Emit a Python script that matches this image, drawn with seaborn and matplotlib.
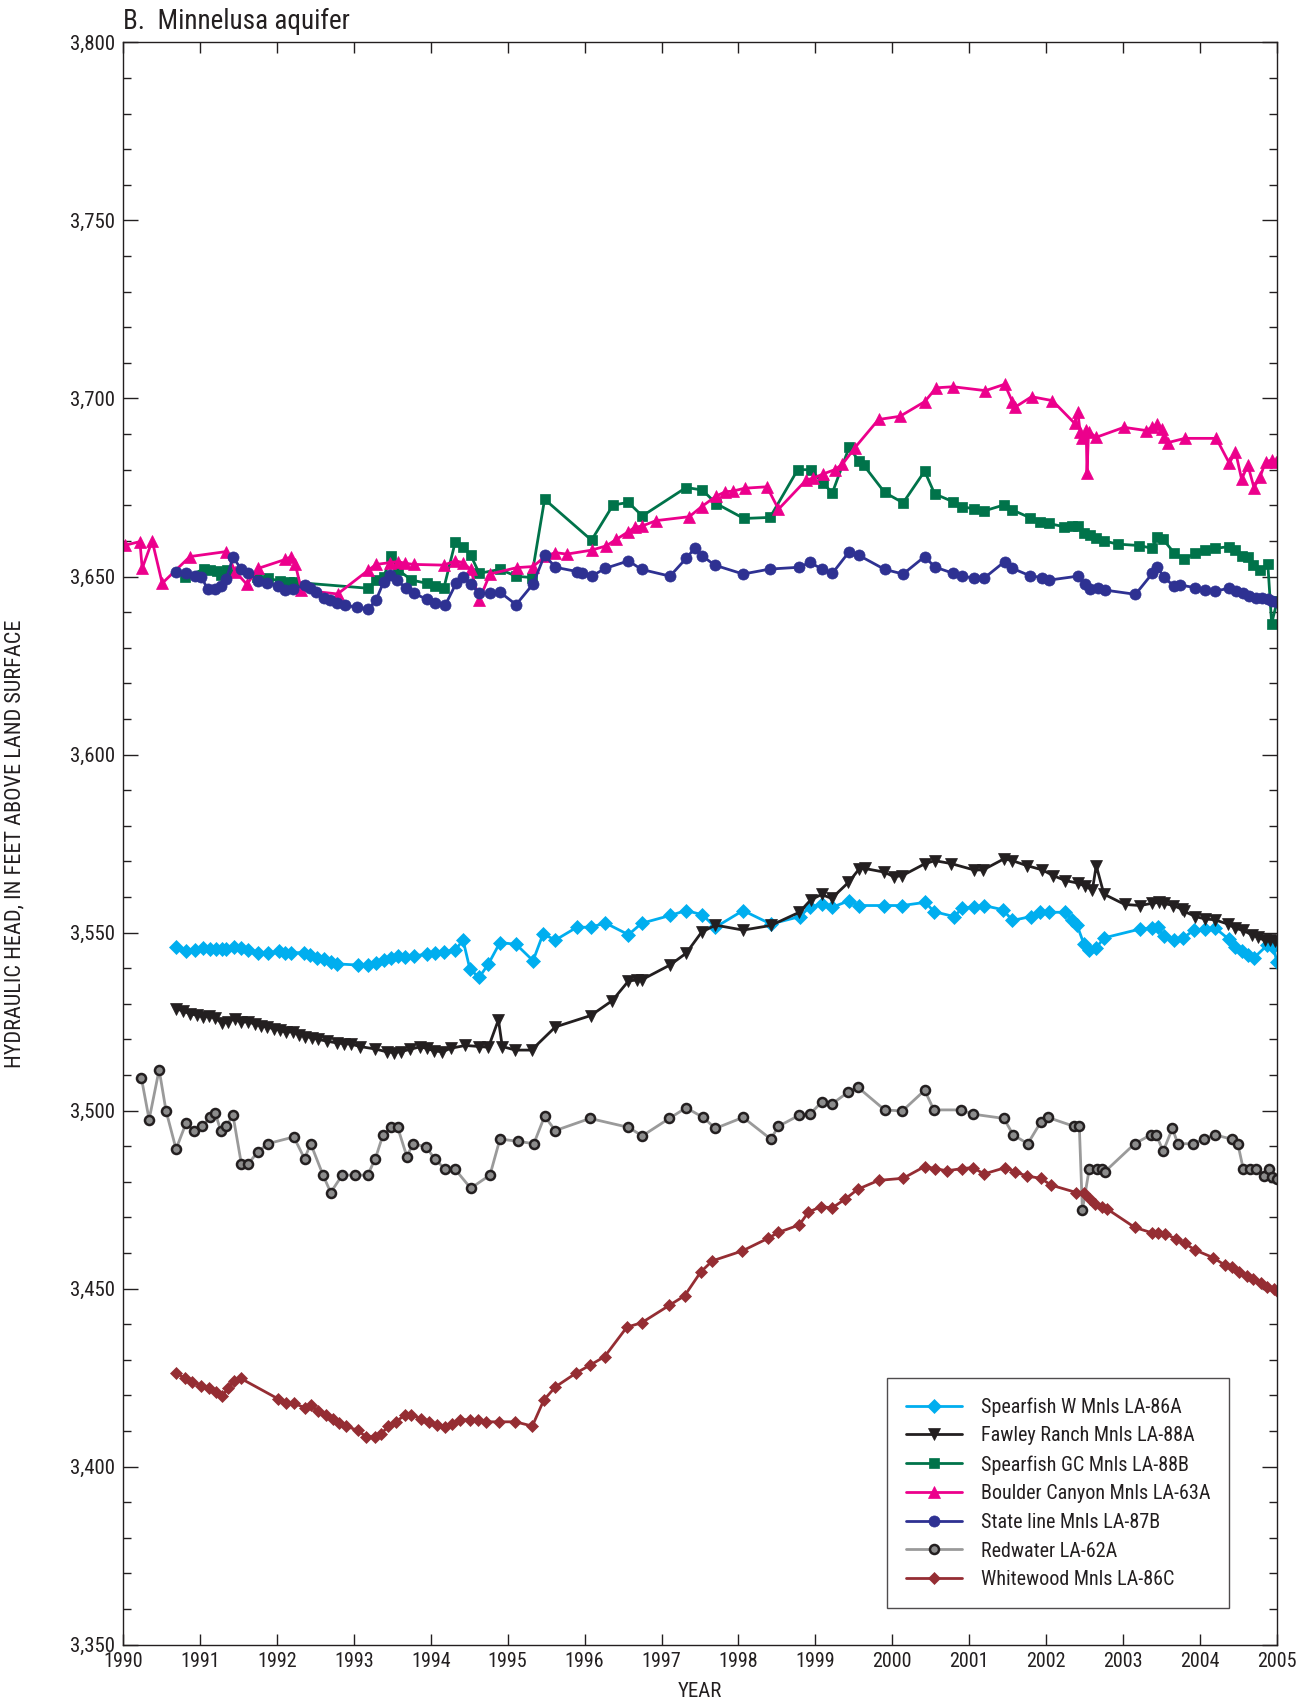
import numpy as np
import pandas as pd
import matplotlib
matplotlib.use("Agg")
import matplotlib.pyplot as plt
import matplotlib.ticker as mticker
import seaborn as sns

# ---------------- data (decimal year, hydraulic head in feet) ----------------
spearfish_w_year = [1990.69, 1990.82, 1990.93, 1991.04, 1991.13, 1991.21, 1991.29, 1991.34, 1991.44, 1991.54,
                    1991.62, 1991.76, 1991.88, 1992.03, 1992.11, 1992.19, 1992.35, 1992.43, 1992.52, 1992.61,
                    1992.70, 1992.78, 1993.05, 1993.19, 1993.29, 1993.39, 1993.48, 1993.57, 1993.67, 1993.78,
                    1993.95, 1994.06, 1994.17, 1994.32, 1994.42, 1994.51, 1994.63, 1994.75, 1994.90, 1995.11,
                    1995.33, 1995.46, 1995.62, 1995.90, 1996.08, 1996.27, 1996.57, 1996.74, 1997.11, 1997.32,
                    1997.53, 1997.70, 1998.06, 1998.42, 1998.80, 1998.93, 1999.09, 1999.22, 1999.44, 1999.56,
                    1999.89, 2000.13, 2000.43, 2000.54, 2000.80, 2000.91, 2001.06, 2001.19, 2001.44, 2001.56,
                    2001.80, 2001.92, 2002.03, 2002.24, 2002.34, 2002.40, 2002.49, 2002.56, 2002.65, 2002.75,
                    2003.22, 2003.37, 2003.45, 2003.53, 2003.66, 2003.78, 2003.92, 2004.06, 2004.20, 2004.37,
                    2004.45, 2004.54, 2004.62, 2004.70, 2004.87, 2004.95, 2005.00]
spearfish_w_head = [3546.0, 3544.9, 3545.1, 3545.6, 3545.4, 3545.5, 3545.4, 3545.4, 3546.0, 3545.6,
                    3545.1, 3544.3, 3544.3, 3544.7, 3544.4, 3544.3, 3544.4, 3543.7, 3543.0, 3542.5,
                    3541.8, 3541.2, 3540.9, 3540.9, 3541.5, 3542.3, 3542.8, 3543.4, 3543.2, 3543.4,
                    3544.0, 3544.4, 3544.6, 3545.1, 3547.9, 3539.7, 3537.4, 3541.2, 3547.2, 3546.7,
                    3542.1, 3549.6, 3547.9, 3551.5, 3551.5, 3552.7, 3549.4, 3552.6, 3554.8, 3556.2,
                    3555.0, 3551.5, 3556.2, 3552.4, 3554.5, 3557.3, 3557.9, 3557.1, 3559.0, 3557.6,
                    3557.6, 3557.6, 3558.5, 3555.9, 3554.5, 3556.8, 3557.3, 3557.6, 3556.4, 3553.4,
                    3554.5, 3555.7, 3555.7, 3555.7, 3553.6, 3552.1, 3546.8, 3545.2, 3545.7, 3548.5,
                    3551.0, 3551.3, 3551.5, 3548.9, 3547.9, 3548.5, 3550.7, 3550.9, 3551.2, 3548.2,
                    3545.9, 3544.8, 3543.8, 3542.9, 3546.4, 3545.9, 3541.7]

fawley_year = [1990.69, 1990.78, 1990.87, 1990.96, 1991.04, 1991.12, 1991.20, 1991.29, 1991.37, 1991.45,
               1991.54, 1991.62, 1991.71, 1991.79, 1991.87, 1991.96, 1992.04, 1992.12, 1992.21, 1992.29,
               1992.37, 1992.46, 1992.54, 1992.65, 1992.78, 1992.87, 1992.96, 1993.08, 1993.28, 1993.43,
               1993.52, 1993.62, 1993.73, 1993.86, 1993.95, 1994.04, 1994.15, 1994.26, 1994.45, 1994.63,
               1994.75, 1994.88, 1994.93, 1995.10, 1995.31, 1995.62, 1996.08, 1996.36, 1996.57, 1996.68,
               1996.74, 1997.11, 1997.32, 1997.52, 1997.70, 1998.06, 1998.42, 1998.79, 1998.94, 1999.08,
               1999.21, 1999.43, 1999.57, 1999.64, 1999.89, 2000.02, 2000.13, 2000.42, 2000.55, 2000.76,
               2001.06, 2001.18, 2001.45, 2001.56, 2001.75, 2001.95, 2002.09, 2002.25, 2002.41, 2002.51,
               2002.60, 2002.65, 2002.75, 2003.02, 2003.22, 2003.37, 2003.47, 2003.53, 2003.65, 2003.76,
               2003.79, 2003.94, 2004.07, 2004.19, 2004.36, 2004.46, 2004.56, 2004.67, 2004.75, 2004.84,
               2004.91, 2004.97]
fawley_head = [3528.6, 3528.0, 3527.2, 3526.8, 3526.4, 3526.5, 3526.0, 3524.5, 3525.0, 3525.8,
               3524.8, 3525.0, 3524.3, 3523.8, 3523.5, 3523.0, 3522.6, 3522.0, 3522.2, 3521.3,
               3520.8, 3520.5, 3520.0, 3519.5, 3519.0, 3518.8, 3518.7, 3518.0, 3517.3, 3516.5,
               3516.3, 3516.6, 3517.2, 3517.9, 3517.5, 3516.8, 3516.5, 3517.5, 3518.3, 3518.0,
               3517.8, 3525.5, 3518.0, 3517.0, 3517.0, 3523.5, 3526.7, 3530.9, 3536.4, 3536.7,
               3536.7, 3540.9, 3544.2, 3550.1, 3552.1, 3550.7, 3552.0, 3555.7, 3559.2, 3560.7,
               3559.6, 3564.1, 3567.9, 3568.0, 3567.0, 3565.7, 3566.0, 3569.3, 3570.2, 3569.4,
               3567.6, 3567.6, 3570.7, 3570.2, 3568.8, 3567.6, 3566.0, 3564.6, 3563.9, 3563.0,
               3562.0, 3568.8, 3560.8, 3557.9, 3557.6, 3558.2, 3558.5, 3558.2, 3557.6, 3556.6,
               3556.0, 3554.5, 3553.8, 3553.6, 3552.4, 3551.2, 3550.6, 3549.4, 3548.7, 3547.8,
               3547.8, 3547.6]

spearfish_gc_year = [1990.81, 1991.05, 1991.13, 1991.22, 1991.28, 1991.35, 1991.74, 1991.89, 1992.04, 1992.16,
                     1992.22, 1993.19, 1993.29, 1993.39, 1993.49, 1993.58, 1993.75, 1993.95, 1994.06, 1994.17,
                     1994.32, 1994.42, 1994.52, 1994.63, 1994.90, 1995.11, 1995.31, 1995.48, 1996.09, 1996.37,
                     1996.57, 1996.75, 1997.32, 1997.53, 1997.71, 1998.07, 1998.41, 1998.77, 1998.94, 1999.10,
                     1999.22, 1999.44, 1999.56, 1999.63, 1999.90, 2000.14, 2000.42, 2000.55, 2000.79, 2000.91,
                     2001.06, 2001.19, 2001.45, 2001.56, 2001.79, 2001.92, 2002.03, 2002.23, 2002.33, 2002.41,
                     2002.49, 2002.57, 2002.65, 2002.75, 2002.93, 2003.21, 2003.38, 2003.44, 2003.52, 2003.66,
                     2003.79, 2003.93, 2004.06, 2004.19, 2004.38, 2004.46, 2004.54, 2004.62, 2004.69, 2004.78,
                     2004.88, 2004.93, 2005.00]
spearfish_gc_head = [3650.0, 3652.0, 3651.8, 3651.6, 3650.4, 3651.8, 3650.0, 3649.5, 3648.7, 3648.6,
                     3648.4, 3646.7, 3649.0, 3650.0, 3655.8, 3651.8, 3649.0, 3648.1, 3647.2, 3646.7,
                     3659.8, 3658.4, 3656.0, 3650.9, 3652.0, 3650.1, 3649.7, 3671.7, 3660.2, 3670.1,
                     3670.8, 3667.0, 3675.0, 3674.3, 3670.5, 3666.3, 3666.6, 3680.0, 3680.0, 3676.2,
                     3673.5, 3686.4, 3682.5, 3681.2, 3673.6, 3670.7, 3679.6, 3673.2, 3671.0, 3669.6,
                     3669.0, 3668.4, 3670.1, 3668.7, 3666.5, 3665.4, 3664.9, 3664.0, 3664.3, 3664.2,
                     3662.1, 3661.8, 3660.7, 3660.0, 3659.1, 3658.7, 3657.9, 3661.2, 3660.4, 3656.7,
                     3654.8, 3656.5, 3657.4, 3657.9, 3658.4, 3657.4, 3655.8, 3655.6, 3653.2, 3651.8,
                     3653.5, 3636.8, 3643.0]

boulder_year = [1990.03, 1990.22, 1990.25, 1990.38, 1990.51, 1990.87, 1991.34, 1991.46, 1991.61, 1991.76,
                1992.11, 1992.19, 1992.24, 1992.32, 1992.79, 1993.19, 1993.29, 1993.47, 1993.57, 1993.67,
                1993.78, 1994.17, 1994.32, 1994.42, 1994.52, 1994.63, 1994.77, 1995.12, 1995.33, 1995.49,
                1995.62, 1995.77, 1996.09, 1996.28, 1996.41, 1996.57, 1996.65, 1996.75, 1996.93, 1997.36,
                1997.52, 1997.71, 1997.83, 1997.93, 1998.08, 1998.37, 1998.52, 1998.88, 1998.97, 1999.10,
                1999.25, 1999.35, 1999.51, 1999.82, 2000.10, 2000.42, 2000.57, 2000.79, 2001.21, 2001.46,
                2001.56, 2001.59, 2001.81, 2002.08, 2002.37, 2002.41, 2002.44, 2002.47, 2002.52, 2002.53,
                2002.55, 2002.65, 2003.01, 2003.30, 2003.38, 2003.44, 2003.51, 2003.53, 2003.58, 2003.80,
                2004.21, 2004.38, 2004.46, 2004.54, 2004.62, 2004.70, 2004.78, 2004.85, 2004.93, 2004.99]
boulder_head = [3658.8, 3659.8, 3652.3, 3660.0, 3648.1, 3655.6, 3657.0, 3651.4, 3647.8, 3652.3,
                3654.8, 3655.6, 3653.4, 3646.2, 3645.1, 3651.8, 3653.4, 3653.9, 3654.2, 3653.7,
                3653.4, 3653.2, 3654.4, 3653.9, 3652.0, 3643.4, 3650.7, 3652.5, 3652.8, 3655.7,
                3656.7, 3656.3, 3657.4, 3658.6, 3660.4, 3662.6, 3663.8, 3664.2, 3665.7, 3666.8,
                3669.6, 3672.6, 3673.8, 3674.0, 3674.8, 3675.2, 3668.9, 3677.1, 3677.6, 3678.8,
                3680.0, 3681.5, 3686.1, 3694.1, 3695.0, 3699.1, 3703.0, 3703.3, 3702.2, 3704.0,
                3699.1, 3697.5, 3700.5, 3699.4, 3693.0, 3696.3, 3690.7, 3688.8, 3691.1, 3679.2,
                3690.7, 3689.1, 3691.9, 3691.0, 3692.1, 3692.8, 3691.3, 3689.1, 3687.6, 3688.8,
                3688.8, 3681.8, 3685.1, 3677.3, 3681.3, 3675.0, 3678.0, 3682.2, 3682.7, 3682.2]

state_line_year = [1990.69, 1990.82, 1990.93, 1991.02, 1991.10, 1991.20, 1991.28, 1991.34, 1991.43, 1991.54,
                   1991.63, 1991.76, 1991.87, 1992.02, 1992.11, 1992.21, 1992.36, 1992.43, 1992.51, 1992.61,
                   1992.69, 1992.78, 1992.88, 1993.04, 1993.19, 1993.29, 1993.39, 1993.47, 1993.56, 1993.68,
                   1993.78, 1993.95, 1994.06, 1994.19, 1994.33, 1994.42, 1994.52, 1994.63, 1994.77, 1994.90,
                   1995.11, 1995.33, 1995.48, 1995.62, 1995.90, 1995.96, 1996.09, 1996.27, 1996.57, 1996.74,
                   1997.11, 1997.32, 1997.43, 1997.53, 1997.69, 1998.06, 1998.41, 1998.79, 1998.93, 1999.09,
                   1999.22, 1999.44, 1999.56, 1999.90, 2000.14, 2000.42, 2000.55, 2000.79, 2000.91, 2001.06,
                   2001.19, 2001.46, 2001.56, 2001.79, 2001.94, 2002.04, 2002.41, 2002.50, 2002.57, 2002.67,
                   2002.76, 2003.16, 2003.38, 2003.44, 2003.53, 2003.66, 2003.74, 2003.93, 2004.06, 2004.19,
                   2004.38, 2004.47, 2004.56, 2004.64, 2004.72, 2004.80, 2004.88, 2004.94, 2005.00]
state_line_head = [3651.3, 3650.9, 3650.1, 3649.8, 3646.5, 3646.5, 3647.3, 3649.2, 3655.4, 3652.0,
                   3651.1, 3648.8, 3648.3, 3647.3, 3646.2, 3646.4, 3647.6, 3646.9, 3645.7, 3644.1,
                   3643.4, 3642.6, 3642.0, 3641.3, 3640.8, 3643.4, 3648.6, 3650.4, 3649.0, 3646.7,
                   3645.3, 3643.6, 3642.5, 3642.0, 3648.1, 3650.0, 3647.9, 3645.3, 3645.3, 3645.6,
                   3642.1, 3647.9, 3656.0, 3652.6, 3651.4, 3651.1, 3650.1, 3652.3, 3654.4, 3652.0,
                   3650.1, 3655.1, 3657.9, 3655.8, 3653.2, 3650.7, 3652.1, 3652.6, 3654.0, 3652.0,
                   3650.9, 3657.0, 3656.0, 3652.0, 3650.7, 3655.6, 3652.7, 3650.9, 3650.1, 3649.5,
                   3649.5, 3654.2, 3652.3, 3650.2, 3649.7, 3649.0, 3650.1, 3647.9, 3646.4, 3646.9,
                   3646.2, 3645.0, 3650.9, 3652.8, 3649.8, 3647.3, 3647.6, 3646.9, 3646.2, 3645.9,
                   3646.7, 3645.9, 3645.3, 3644.5, 3644.1, 3643.9, 3643.6, 3643.2, 3642.9]

redwater_year = [1990.24, 1990.34, 1990.47, 1990.56, 1990.69, 1990.82, 1990.92, 1991.03, 1991.13, 1991.20,
                 1991.27, 1991.34, 1991.43, 1991.54, 1991.62, 1991.75, 1991.88, 1992.22, 1992.36, 1992.44,
                 1992.60, 1992.70, 1992.85, 1993.02, 1993.18, 1993.28, 1993.38, 1993.49, 1993.57, 1993.69,
                 1993.77, 1993.94, 1994.05, 1994.18, 1994.31, 1994.52, 1994.77, 1994.90, 1995.13, 1995.34,
                 1995.48, 1995.62, 1996.07, 1996.57, 1996.75, 1997.10, 1997.32, 1997.54, 1997.70, 1998.06,
                 1998.42, 1998.52, 1998.79, 1998.93, 1999.08, 1999.21, 1999.42, 1999.55, 1999.90, 2000.13,
                 2000.42, 2000.54, 2000.89, 2001.05, 2001.45, 2001.57, 2001.76, 2001.93, 2002.02, 2002.36,
                 2002.43, 2002.47, 2002.56, 2002.66, 2002.73, 2002.76, 2003.15, 2003.36, 2003.43, 2003.52,
                 2003.64, 2003.71, 2003.91, 2004.05, 2004.19, 2004.41, 2004.49, 2004.56, 2004.65, 2004.73,
                 2004.83, 2004.89, 2004.94, 2005.00]
redwater_head = [3509.1, 3497.5, 3511.5, 3499.9, 3489.2, 3496.5, 3494.4, 3495.6, 3498.1, 3499.3,
                 3494.4, 3495.6, 3498.7, 3484.9, 3484.9, 3488.3, 3490.7, 3492.6, 3486.5, 3490.7,
                 3481.9, 3477.0, 3481.9, 3481.9, 3481.9, 3486.5, 3493.2, 3495.3, 3495.3, 3487.1,
                 3490.7, 3489.8, 3486.5, 3483.7, 3483.7, 3478.2, 3481.9, 3492.0, 3491.4, 3490.7,
                 3498.4, 3494.4, 3497.8, 3495.3, 3492.9, 3497.8, 3500.8, 3498.1, 3495.0, 3498.1,
                 3492.0, 3495.6, 3498.7, 3499.0, 3502.4, 3501.8, 3505.1, 3506.6, 3500.2, 3499.9,
                 3505.7, 3500.2, 3500.2, 3499.0, 3497.8, 3493.2, 3490.7, 3496.8, 3498.1, 3495.6,
                 3495.6, 3472.1, 3483.7, 3483.7, 3483.7, 3482.8, 3490.7, 3493.2, 3493.2, 3488.6,
                 3495.0, 3490.7, 3490.7, 3492.0, 3493.2, 3492.0, 3490.7, 3483.7, 3483.7, 3483.7,
                 3481.6, 3483.7, 3481.3, 3480.8]

whitewood_year = [1990.69, 1990.81, 1990.90, 1991.02, 1991.12, 1991.21, 1991.29, 1991.37, 1991.44, 1991.53,
                  1992.02, 1992.12, 1992.22, 1992.36, 1992.44, 1992.53, 1992.64, 1992.73, 1992.81, 1992.90,
                  1993.05, 1993.16, 1993.28, 1993.36, 1993.45, 1993.55, 1993.66, 1993.74, 1993.87, 1993.98,
                  1994.08, 1994.18, 1994.28, 1994.38, 1994.51, 1994.62, 1994.72, 1994.89, 1995.10, 1995.32,
                  1995.47, 1995.62, 1995.89, 1996.07, 1996.26, 1996.55, 1996.74, 1997.10, 1997.30, 1997.51,
                  1997.66, 1998.05, 1998.39, 1998.52, 1998.79, 1998.91, 1999.07, 1999.22, 1999.39, 1999.55,
                  1999.82, 2000.14, 2000.42, 2000.56, 2000.71, 2000.90, 2001.05, 2001.19, 2001.47, 2001.60,
                  2001.75, 2001.93, 2002.06, 2002.39, 2002.49, 2002.57, 2002.64, 2002.73, 2002.79, 2003.15,
                  2003.37, 2003.45, 2003.55, 2003.69, 2003.80, 2003.94, 2004.17, 2004.33, 2004.42, 2004.51,
                  2004.61, 2004.69, 2004.79, 2004.87, 2004.96, 2005.00]
whitewood_head = [3426.3, 3424.8, 3423.9, 3422.7, 3422.1, 3421.1, 3419.9, 3422.1, 3424.2, 3424.8,
                  3419.0, 3417.8, 3417.8, 3416.6, 3417.2, 3415.7, 3414.5, 3413.5, 3412.3, 3411.4,
                  3410.2, 3408.4, 3408.4, 3409.3, 3411.4, 3412.6, 3414.5, 3414.5, 3413.5, 3412.6,
                  3411.7, 3411.1, 3412.0, 3413.2, 3413.2, 3413.2, 3412.6, 3412.6, 3412.6, 3411.4,
                  3418.7, 3422.4, 3426.3, 3428.5, 3430.9, 3439.2, 3440.4, 3445.3, 3448.0, 3454.7,
                  3457.8, 3460.6, 3464.2, 3465.8, 3467.9, 3471.5, 3473.0, 3472.7, 3475.2, 3477.9,
                  3480.4, 3481.0, 3484.3, 3483.7, 3483.1, 3483.7, 3484.0, 3482.2, 3484.0, 3482.8,
                  3481.6, 3481.0, 3479.1, 3477.0, 3477.0, 3475.2, 3473.9, 3473.0, 3472.4, 3467.2,
                  3465.7, 3465.7, 3465.4, 3463.9, 3462.7, 3460.8, 3458.7, 3456.5, 3456.2, 3454.7,
                  3453.5, 3452.6, 3451.6, 3450.4, 3449.8, 3449.2]

series_names = ["Spearfish W Mnls LA-86A", "Fawley Ranch Mnls LA-88A", "Spearfish GC Mnls LA-88B",
                "Boulder Canyon Mnls LA-63A", "State line Mnls LA-87B", "Redwater LA-62A",
                "Whitewood Mnls LA-86C"]
series_years = [spearfish_w_year, fawley_year, spearfish_gc_year, boulder_year,
                state_line_year, redwater_year, whitewood_year]
series_heads = [spearfish_w_head, fawley_head, spearfish_gc_head, boulder_head,
                state_line_head, redwater_head, whitewood_head]

# ---------------- styles ----------------
styles = {
    "Spearfish W Mnls LA-86A":    dict(color="#00AEEF", marker="D", ms=7.0, mfc="#00AEEF", mec="#00AEEF", mew=0.5),
    "Fawley Ranch Mnls LA-88A":   dict(color="#231F20", marker="v", ms=8.0, mfc="#231F20", mec="#231F20", mew=0.5),
    "Spearfish GC Mnls LA-88B":   dict(color="#00734A", marker="s", ms=6.5, mfc="#00734A", mec="#00734A", mew=0.5),
    "Boulder Canyon Mnls LA-63A": dict(color="#EC008C", marker="^", ms=8.5, mfc="#EC008C", mec="#EC008C", mew=0.5),
    "State line Mnls LA-87B":     dict(color="#2E3192", marker="o", ms=8.0, mfc="#2E3192", mec="#2E3192", mew=0.5),
    "Redwater LA-62A":            dict(color="#9A9A9A", marker="o", ms=6.5, mfc="#8C8C8C", mec="#231F20", mew=1.8),
    "Whitewood Mnls LA-86C":      dict(color="#952D33", marker="D", ms=6.5, mfc="#952D33", mec="#952D33", mew=0.5),
}

sns.set_style("ticks")
font_list = ["Liberation Sans Narrow", "Roboto Condensed", "Liberation Sans", "DejaVu Sans"]
plt.rcParams["font.family"] = font_list
plt.rcParams["text.color"] = "#231F20"
plt.rcParams["axes.labelcolor"] = "#231F20"
plt.rcParams["xtick.color"] = "#231F20"
plt.rcParams["ytick.color"] = "#231F20"

fig = plt.figure(figsize=(13.11, 17.04), dpi=100)
ax = fig.add_axes([0.0938, 0.0348, 0.8803, 0.9403])

for name, yrs, heads in zip(series_names, series_years, series_heads):
    st = styles[name]
    df = pd.DataFrame({"year": yrs, "head": heads})
    sns.lineplot(data=df, x="year", y="head", ax=ax, estimator=None, sort=False,
                 color=st["color"], linewidth=2.0, marker=st["marker"], markersize=st["ms"],
                 markerfacecolor=st["mfc"], markeredgecolor=st["mec"], markeredgewidth=st["mew"],
                 label=name, clip_on=True)

ax.set_xlim(1990, 2005)
ax.set_ylim(3350, 3800)
ax.xaxis.set_major_locator(mticker.MultipleLocator(1))
ax.yaxis.set_major_locator(mticker.MultipleLocator(50))
ax.yaxis.set_minor_locator(mticker.MultipleLocator(10))
ax.yaxis.set_major_formatter(mticker.FuncFormatter(lambda v, p: f"{int(round(v)):,}"))
ax.xaxis.set_major_formatter(mticker.FuncFormatter(lambda v, p: f"{int(round(v))}"))

ax.tick_params(axis="both", which="both", direction="in", top=True, right=True, width=1.0, color="#231F20")
ax.tick_params(axis="y", which="major", length=11, labelsize=15, pad=6)
ax.tick_params(axis="y", which="minor", length=6)
ax.tick_params(axis="x", which="major", length=8, labelsize=14.5, pad=5)
for sp in ax.spines.values():
    sp.set_linewidth(1.0)
    sp.set_color("#231F20")
    sp.set_visible(True)

ax.set_xlabel("YEAR", fontsize=15, labelpad=8)
ax.set_ylabel("HYDRAULIC HEAD, IN FEET ABOVE LAND SURFACE", fontsize=16, labelpad=32)
ax.set_title("B.  Minnelusa aquifer", loc="left", fontsize=19.5, pad=10)

leg = ax.legend(loc="upper left", bbox_to_anchor=(0.662, 0.1664), frameon=True, fancybox=False,
                fontsize=14.5, handlelength=2.8, handletextpad=0.9, labelspacing=0.48,
                borderpad=0.95, borderaxespad=0.0)
leg.get_frame().set_edgecolor("#231F20")
leg.get_frame().set_linewidth(1.0)

fig.savefig("out.png", dpi=100)
